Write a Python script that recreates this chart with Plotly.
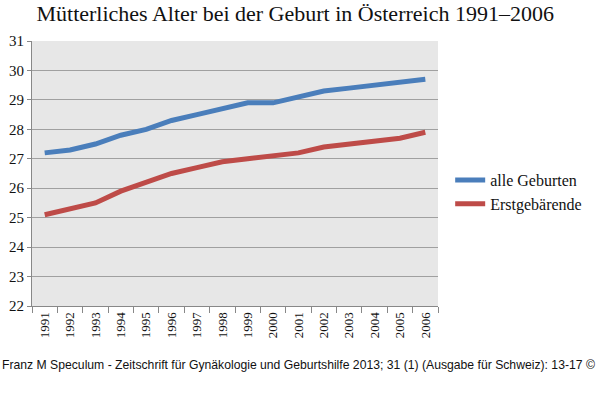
import plotly.graph_objects as go

years = [str(y) for y in range(1991, 2007)]
alle_geburten = [27.2, 27.3, 27.5, 27.8, 28.0, 28.3, 28.5, 28.7, 28.9, 28.9, 29.1, 29.3, 29.4, 29.5, 29.6, 29.7]
erstgebaerende = [25.1, 25.3, 25.5, 25.9, 26.2, 26.5, 26.7, 26.9, 27.0, 27.1, 27.2, 27.4, 27.5, 27.6, 27.7, 27.9]
y_ticks = list(range(22, 32))

serif = "Liberation Serif, DejaVu Serif, serif"

fig = go.Figure()
fig.add_trace(go.Scatter(x=years, y=alle_geburten, mode="lines", name="alle Geburten",
                         legendgroup="a", line=dict(color="#4a7ebb", width=5)))
fig.add_trace(go.Scatter(x=years, y=erstgebaerende, mode="lines", name="Erstgebärende",
                         legendgroup="b", line=dict(color="#be4b48", width=5)))

fig.update_layout(
    width=600, height=415,
    margin=dict(l=32, r=162, t=41, b=109, autoexpand=False),
    paper_bgcolor="white",
    plot_bgcolor="#e7e7e7",
    title=dict(text="Mütterliches Alter bei der Geburt in Österreich 1991–2006",
               x=0.492, xanchor="center", xref="container", y=0.968, yanchor="middle",
               font=dict(family=serif, size=22, color="#111")),
    showlegend=True,
    legend=dict(x=1.03, y=0.43, xanchor="left", yanchor="middle",
                font=dict(family=serif, size=16, color="#111"),
                bgcolor="rgba(0,0,0,0)", tracegroupgap=0, itemwidth=30),
    font=dict(family=serif, color="#111"),
)
fig.update_xaxes(type="category", tickangle=-90, tickson="boundaries",
                 ticks="outside", ticklen=6, tickcolor="#888",
                 showline=True, linecolor="#888", linewidth=1, automargin=False,
                 showgrid=False, tickfont=dict(family=serif, size=13, color="#111"),
                 range=[-0.5, 15.5])
fig.update_yaxes(range=[22, 31], tickvals=y_ticks, ticks="outside", ticklen=4, tickcolor="#888",
                 showline=True, linecolor="#888", linewidth=1, automargin=False,
                 showgrid=True, gridcolor="#a0a0a0", gridwidth=1,
                 zeroline=False, tickfont=dict(family=serif, size=15, color="#111"))

fig.add_annotation(text="Franz M Speculum - Zeitschrift für Gynäkologie und Geburtshilfe 2013; 31 (1) (Ausgabe für Schweiz): 13-17 ©",
                   xref="paper", yref="paper", x=-32/406, y=-59/265, xanchor="left", yanchor="middle",
                   showarrow=False, font=dict(family="Liberation Sans, Arial, sans-serif", size=12.2, color="#111"))

fig.write_html("out.html", config={"displayModeBar": False},
               post_script="document.body.style.margin='0';document.body.style.padding='0';")
